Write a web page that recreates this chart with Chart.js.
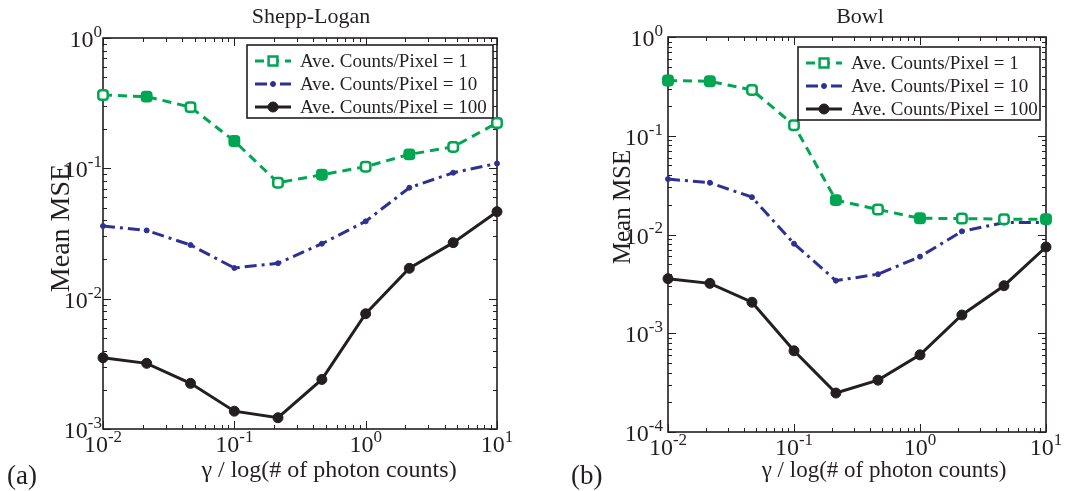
<!DOCTYPE html>
<html>
<head>
<meta charset="utf-8">
<script src="https://cdn.jsdelivr.net/npm/chart.js@4.4.1/dist/chart.umd.min.js"></script>
<style>
    html, body { margin: 0; padding: 0; background: #fff; }
    #wrap { position: relative; width: 1088px; height: 491px; overflow: hidden; }
    .panel { position: absolute; top: 0; height: 491px; }
</style>
</head>
<body>
<div id="wrap">
    <div class="panel" style="left:0;width:540px"><canvas id="chartA" width="540" height="491"></canvas></div>
    <div class="panel" style="left:540px;width:548px"><canvas id="chartB" width="548" height="491"></canvas></div>
</div>
<script>
// gamma / log(# of photon counts), 1/3 decade steps
var gammaValues = [0.01, 0.0215, 0.0464, 0.1, 0.215, 0.464, 1, 2.15, 4.64, 10];
var seriesLabels = ['Ave. Counts/Pixel = 1', 'Ave. Counts/Pixel = 10', 'Ave. Counts/Pixel = 100'];

// (a) Shepp-Logan
var sheppCounts1 = [0.365, 0.355, 0.295, 0.162, 0.0776, 0.0893, 0.103, 0.128, 0.146, 0.223];
var sheppCounts10 = [0.0361, 0.0334, 0.0258, 0.0172, 0.0187, 0.0264, 0.0392, 0.071, 0.0925, 0.109];
var sheppCounts100 = [0.00352, 0.00319, 0.00224, 0.00137, 0.00122, 0.0024, 0.00766, 0.0171, 0.0269, 0.0465];
var sheppSquareFilled = [0, 1, 0, 1, 0, 1, 0, 1, 0, 0];

// (b) Bowl
var bowlCounts1 = [0.362, 0.356, 0.291, 0.128, 0.0223, 0.0179, 0.0146, 0.0145, 0.0143, 0.0143];
var bowlCounts10 = [0.0364, 0.0334, 0.0239, 0.00807, 0.00341, 0.00396, 0.00597, 0.01076, 0.0132, 0.0132];
var bowlCounts100 = [0.00357, 0.0032, 0.00206, 0.000664, 0.000248, 0.000335, 0.000604, 0.00153, 0.00303, 0.00747];
var bowlSquareFilled = [1, 1, 0, 0, 1, 0, 1, 0, 0, 1];

// tick exponents
var xExponents = [-2, -1, 0, 1];
var sheppYExponents = [-3, -2, -1, 0];
var bowlYExponents = [-4, -3, -2, -1, 0];

var FONT = '"Liberation Serif", "Times New Roman", serif';
var GREEN = '#00a651';
var BLUE = '#2e3192';
var BLACK = '#231f20';

// draws "10" with a raised exponent, baseline at y
function drawPower(ctx, exp, x, y, align, size) {
    var supSize = Math.round(size * 0.7);
    ctx.font = size + 'px ' + FONT;
    var wBase = ctx.measureText('10').width;
    ctx.font = supSize + 'px ' + FONT;
    var sup = String(exp);
    var wSup = ctx.measureText(sup).width;
    var total = wBase + wSup;
    var left = align === 'right' ? x - total : x - total / 2;
    ctx.textAlign = 'left';
    ctx.textBaseline = 'alphabetic';
    ctx.font = size + 'px ' + FONT;
    ctx.fillText('10', left, y);
    ctx.font = supSize + 'px ' + FONT;
    ctx.fillText(sup, left + wBase, y - size * 0.42);
}

function drawMarker(ctx, style, x, y, r, stroke, fill, bw) {
    ctx.save();
    ctx.setLineDash([]);
    ctx.lineWidth = bw;
    ctx.strokeStyle = stroke;
    ctx.fillStyle = fill;
    ctx.beginPath();
    if (style === 'rectRounded') {
        ctx.rect(x - r * 0.8, y - r * 0.8, r * 1.6, r * 1.6);
    } else {
        ctx.arc(x, y, r, 0, Math.PI * 2);
    }
    ctx.fill();
    ctx.stroke();
    ctx.restore();
}

// MATLAB style box, inward ticks, labels and legend
var matlabAxes = {
    id: 'matlabAxes',
    beforeDatasetsDraw: function (chart, args, opts) {
        var ctx = chart.ctx;
        var a = chart.chartArea;
        var xs = chart.scales.x, ys = chart.scales.y;
        ctx.save();
        ctx.strokeStyle = BLACK;
        ctx.lineWidth = 1;

        // x ticks, bottom and top
        for (var e = Math.log10(xs.min); e <= Math.log10(xs.max); e++) {
            for (var m = 1; m <= 9; m++) {
                var v = m * Math.pow(10, e);
                if (v > xs.max * 1.0001) break;
                var px = Math.round(xs.getPixelForValue(v)) + 0.5;
                var len = m === 1 ? 8 : 4;
                ctx.beginPath();
                ctx.moveTo(px, a.bottom); ctx.lineTo(px, a.bottom - len);
                ctx.moveTo(px, a.top); ctx.lineTo(px, a.top + len);
                ctx.stroke();
            }
        }
        // y ticks, left and right
        for (var e2 = Math.log10(ys.min); e2 <= Math.log10(ys.max); e2++) {
            for (var m2 = 1; m2 <= 9; m2++) {
                var v2 = m2 * Math.pow(10, e2);
                if (v2 > ys.max * 1.0001) break;
                var py = Math.round(ys.getPixelForValue(v2)) + 0.5;
                var len2 = m2 === 1 ? 8 : 4;
                ctx.beginPath();
                ctx.moveTo(a.left, py); ctx.lineTo(a.left + len2, py);
                ctx.moveTo(a.right, py); ctx.lineTo(a.right - len2, py);
                ctx.stroke();
            }
        }

        // box
        ctx.lineWidth = 1.6;
        ctx.strokeRect(a.left, a.top, a.right - a.left, a.bottom - a.top);

        // tick labels
        ctx.fillStyle = BLACK;
        opts.xExp.forEach(function (ex) {
            drawPower(ctx, ex, xs.getPixelForValue(Math.pow(10, ex)), a.bottom + 23, 'center', opts.tickSize);
        });
        opts.yExp.forEach(function (ex) {
            drawPower(ctx, ex, a.left - opts.labelGap, ys.getPixelForValue(Math.pow(10, ex)) + 9, 'right', opts.tickSize);
        });

        // title, axis labels, panel tag
        ctx.font = '22px ' + FONT;
        ctx.textAlign = 'center';
        ctx.textBaseline = 'alphabetic';
        ctx.fillText(opts.title, opts.titleX, 23);
        ctx.font = opts.xLabelSize + 'px ' + FONT;
        ctx.fillText('\u03b3 / log(# of photon counts)', opts.xLabelX, 477);
        ctx.font = '27px ' + FONT;
        ctx.textAlign = 'left';
        ctx.fillText(opts.tag, opts.tagX, 484);

        ctx.save();
        ctx.translate(opts.yLabelX, opts.yLabelY);
        ctx.rotate(-Math.PI / 2);
        ctx.font = opts.yLabelSize + 'px ' + FONT;
        ctx.textAlign = 'center';
        ctx.textBaseline = 'middle';
        ctx.fillText('Mean MSE', 0, 0);
        ctx.restore();

        ctx.restore();
    },
    afterDraw: function (chart, args, opts) {
        var ctx = chart.ctx;
        var L = opts.legend;
        ctx.save();
        ctx.fillStyle = '#fff';
        ctx.fillRect(L.x, L.y, L.w, L.h);
        ctx.strokeStyle = BLACK;
        ctx.lineWidth = 1.6;
        ctx.strokeRect(L.x, L.y, L.w, L.h);

        chart.data.datasets.forEach(function (ds, i) {
            var cy = L.y + 16 + i * 23;
            ctx.save();
            ctx.strokeStyle = ds.borderColor;
            ctx.lineWidth = ds.borderWidth;
            ctx.setLineDash(ds.borderDash || []);
            ctx.beginPath();
            ctx.moveTo(L.x + 8, cy);
            ctx.lineTo(L.x + 44, cy);
            ctx.stroke();
            ctx.restore();
            drawMarker(ctx, ds.pointStyle, L.x + 26, cy, ds.pointRadius, ds.borderColor,
                i === 0 ? '#fff' : ds.borderColor, ds.pointBorderWidth);

            ctx.fillStyle = BLACK;
            ctx.font = '19px ' + FONT;
            ctx.textAlign = 'left';
            ctx.textBaseline = 'middle';
            ctx.fillText(ds.label, L.x + 53, cy + 1);
        });
        ctx.restore();
    }
};

function toPoints(values) {
    return gammaValues.map(function (g, i) { return { x: g, y: values[i] }; });
}

function buildPanel(canvasId, values, squareFilled, yMin, axesOpts, padding) {
    var datasets = [{
        label: seriesLabels[0],
        data: toPoints(values[0]),
        borderColor: GREEN,
        borderWidth: 3,
        borderDash: [9, 6],
        pointStyle: 'rectRounded',
        pointRadius: 5.5,
        pointBorderWidth: 2.5,
        pointBorderColor: GREEN,
        pointBackgroundColor: squareFilled.map(function (f) { return f ? GREEN : '#fff'; }),
        clip: false
    }, {
        label: seriesLabels[1],
        data: toPoints(values[1]),
        borderColor: BLUE,
        borderWidth: 3,
        borderDash: [12, 5, 3, 5],
        pointStyle: 'circle',
        pointRadius: 2.5,
        pointBorderWidth: 1,
        pointBorderColor: BLUE,
        pointBackgroundColor: BLUE,
        clip: false
    }, {
        label: seriesLabels[2],
        data: toPoints(values[2]),
        borderColor: BLACK,
        borderWidth: 3,
        pointStyle: 'circle',
        pointRadius: 5,
        pointBorderWidth: 1,
        pointBorderColor: BLACK,
        pointBackgroundColor: BLACK,
        clip: false
    }];

    return new Chart(document.getElementById(canvasId), {
        type: 'line',
        data: { datasets: datasets },
        options: {
            responsive: false,
            animation: false,
            layout: { padding: padding },
            elements: { line: { tension: 0 } },
            plugins: {
                legend: { display: false },
                tooltip: { enabled: false },
                matlabAxes: axesOpts
            },
            scales: {
                x: { type: 'logarithmic', min: 0.01, max: 10, display: false },
                y: { type: 'logarithmic', min: yMin, max: 1, display: false }
            }
        },
        plugins: [matlabAxes]
    });
}

buildPanel('chartA', [sheppCounts1, sheppCounts10, sheppCounts100], sheppSquareFilled, 1e-3, {
    title: 'Shepp-Logan', titleX: 311, xLabelX: 329, xLabelSize: 24,
    yLabelX: 62, yLabelY: 228, yLabelSize: 28,
    tag: '(a)', tagX: 7, labelGap: 1, tickSize: 24, xExp: xExponents, yExp: sheppYExponents,
    legend: { x: 247, y: 45, w: 246, h: 73 }
}, { left: 103, right: 43, top: 38, bottom: 62 });

buildPanel('chartB', [bowlCounts1, bowlCounts10, bowlCounts100], bowlSquareFilled, 1e-4, {
    title: 'Bowl', titleX: 320, xLabelX: 344, xLabelSize: 23,
    yLabelX: 83, yLabelY: 207, yLabelSize: 25,
    tag: '(b)', tagX: 31, labelGap: 5, tickSize: 24, xExp: xExponents, yExp: bowlYExponents,
    legend: { x: 258, y: 47, w: 242, h: 73 }
}, { left: 128, right: 42, top: 37, bottom: 59 });
</script>
</body>
</html>
